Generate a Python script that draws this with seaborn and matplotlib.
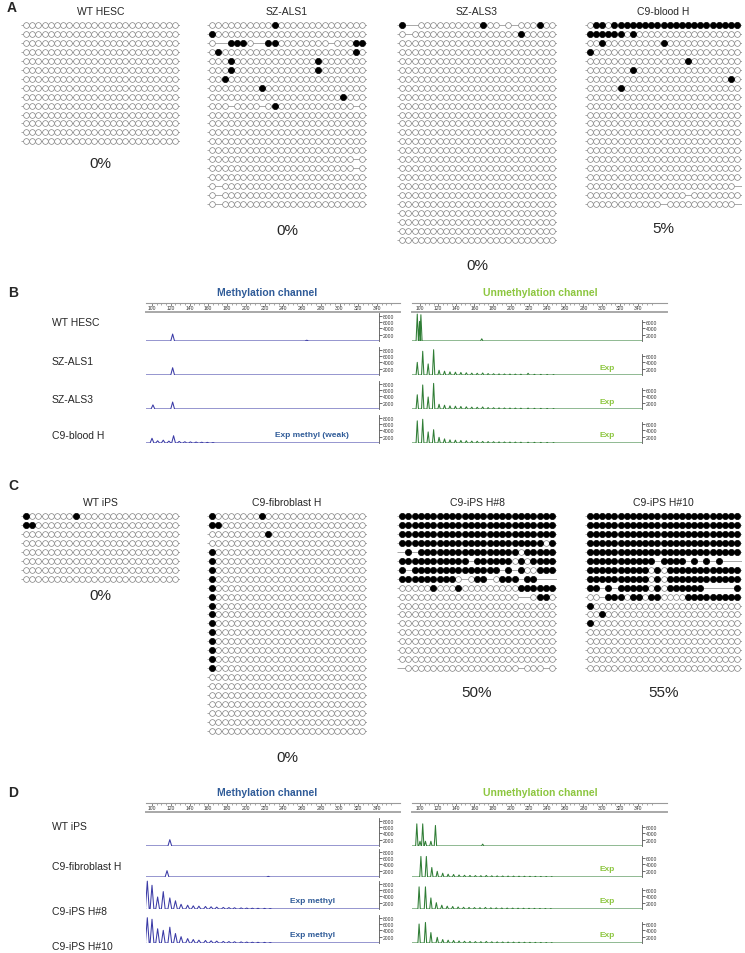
import matplotlib
matplotlib.use('Agg')
import matplotlib.pyplot as plt
import pandas as pd
import seaborn as sns

sns.set_theme(style='white')
plt.rcParams['font.family'] = ['Liberation Sans', 'DejaVu Sans']

# ---------------- bisulfite reads: o = unmethylated, x = methylated, - = no call
wt_hesc = ['ooooooooooooooooooooooooo'] * 14
sz_als1 = [
    'ooooooooooxoooooooooooooo',
    'xoooooooooooooooooooooooo',
    'o--xxxo--xxoooooooo-oooxx',
    'oxoooooooooooooooooooooxo',
    'oooxoooooooooooooxooooooo',
    'oooxoooooooooooooxooooooo',
    'ooxoooooooooooooooooooooo',
    'ooooooooxoooooooooooooooo',
    'oooooooooooooooooooooxooo',
    'ooo-oooo-oxoooooooooooo-o',
    'ooooooooooooooooooooooooo',
    'ooooooooooooooooooooooooo',
    'ooooooooooooooooooooooooo',
    'ooooooooooooooooooooooooo',
    'ooooooooooooooooooooooooo',
    'ooooooooooooooooooooooo-o',
    'ooooooooooooooooooooooo-o',
    'ooooooooooooooooooooooooo',
    'o-ooooooooooooooooooooooo',
    'o-ooooooooooooooooooooooo',
    'o-ooooooooooooooooooooooo',
]
sz_als3 = [
    'x--ooooooooooxoo-o-oooxoo',
    'o-oooooooooooooooooxooooo',
] + ['ooooooooooooooooooooooooo'] * 23
c9_blood = [
    'oxxoxxxxxxxxxxxxxxxxxxxxx',
    'xxxxxxoxooooooooooooooooo',
    'ooxoooooooooxoooooooooooo',
    'xoooooooooooooooooooooooo',
    'ooooooooooooooooxoooooooo',
    'oooooooxooooooooooooooooo',
    'oooooooooooooooooooooooxo',
    'oooooxooooooooooooooooooo',
] + ['ooooooooooooooooooooooooo'] * 10 + [
    'oooooooooooooooooooooooo-',
    'oooooooooooooooo-oooooooo',
    'oooooooooooo-ooooooooooo-',
]
wt_ips = [
    'xoooooooxoooooooooooooooo',
    'xxooooooooooooooooooooooo',
] + ['ooooooooooooooooooooooooo'] * 6
c9_fibro = [
    'xoooooooxoooooooooooooooo',
    'xxooooooooooooooooooooooo',
    'oooooooooxooooooooooooooo',
    'ooooooooooooooooooooooooo',
] + ['xoooooooooooooooooooooooo'] * 14 + ['ooooooooooooooooooooooooo'] * 7
c9_ips8 = [
    'xxxxxxxxxxxxxxxxxxxxxxxxx',
    'xxxxxxxxxxxxxxxxxxxxxxxxx',
    'xxxxxxxxxxxxxxxxxxxxxxxxx',
    'xxxxxxxxxxxxxxxxxxxxxxxox',
    '-x-xxxxxxxxxxxxxxxxoxxxxx',
    'xxxxxxxxxxx-xxxxxxoxoxxxx',
    'x-xxxxxxxxxxxxxx-x-xooxxx',
    'xxxxxxxxxo-oxx-oxxx-xx---',
    'oooooxoooxoooooooooxxxxxx',
    'ooooooooooooooooooo--oxxo',
] + ['ooooooooooooooooooooooooo'] * 7 + [
    '-oooooooooooooooooo-ooo-o',
]
c9_ips10 = ['xxxxxxxxxxxxxxxxxxxxxxxxx'] * 5 + [
    'xxxxxxxxxxx-xxxx-x-x-x---',
    'xxxxxxxxxxoxoxxxxxxxxxxxx',
    'xxxxxxxxxxoxoxxxxxxxxxxxx',
    'xx-x-xxxxxoxoxxxxxx-----x',
    'oo-xxxoxxoxxooooxxxxxxxxx',
    'xoooooooooooooooooooooooo',
    'ooxoooooooooooooooooooooo',
    'xoooooooooooooooooooooooo',
] + ['ooooooooooooooooooooooooo'] * 5

grid_names = ['WT HESC', 'SZ-ALS1', 'SZ-ALS3', 'C9-blood H',
              'WT iPS', 'C9-fibroblast H', 'C9-iPS H#8', 'C9-iPS H#10']
grid_reads = [wt_hesc, sz_als1, sz_als3, c9_blood,
              wt_ips, c9_fibro, c9_ips8, c9_ips10]
grid_pct = ['0%', '0%', '0%', '5%', '0%', '0%', '50%', '55%']

# ---------------- fragment analysis traces (size in bp, height in rfu)
ruler_ticks = [100, 120, 140, 160, 180, 200, 220, 240, 260, 280, 300, 320, 340]

b_samples = ['WT HESC', 'SZ-ALS1', 'SZ-ALS3', 'C9-blood H']
b_meth_pos = [[122, 265], [122], [101, 122],
              [100, 106, 112, 118, 123, 129, 135, 141, 147, 153, 159, 165]]
b_meth_ht = [[2200, 250], [2300], [1300, 2200],
             [1500, 700, 900, 600, 2300, 500, 400, 350, 300, 250, 200, 150]]
b_meth_note = ['', '', '', 'Exp methyl (weak)']
ladder_pos = [97, 103, 109, 115, 121, 127, 133, 139, 145, 151, 157, 163, 169,
              175, 181, 187, 193, 199, 205, 211, 219, 226, 233, 240, 247]
b_unm_pos = [[97, 99.5, 101, 168], ladder_pos, ladder_pos, ladder_pos]
b_unm_ht = [[8500, 6200, 8300, 700],
            [4000, 7500, 3500, 8000, 1500, 1200, 1000, 900, 800, 700, 600, 550, 650,
             450, 400, 350, 320, 300, 280, 260, 550, 220, 200, 180, 150],
            [4500, 7600, 3800, 8100, 1500, 1200, 1000, 900, 800, 700, 600, 550, 650,
             450, 400, 350, 320, 300, 280, 260, 300, 220, 200, 180, 150],
            [7000, 7500, 3500, 4200, 1800, 1300, 1000, 900, 800, 700, 600, 550, 500,
             450, 400, 350, 320, 300, 280, 260, 250, 220, 200, 180, 150]]
b_unm_note = ['', 'Exp', 'Exp', 'Exp']

d_samples = ['WT iPS', 'C9-fibroblast H', 'C9-iPS H#8', 'C9-iPS H#10']
meth_ladder = [95, 100, 106, 112, 119, 125, 131, 138, 144, 150, 157, 163, 169,
               176, 182, 188, 195, 201, 207, 213, 220, 226]
d_meth_pos = [[119], [116, 224], meth_ladder, meth_ladder]
d_meth_ht = [[2000], [2000, 200],
             [8800, 7500, 3800, 5500, 3500, 2600, 1500, 1200, 1000, 900, 800, 700,
              600, 500, 450, 400, 350, 300, 250, 220, 200, 150],
             [8000, 7500, 4500, 4000, 5000, 3000, 2000, 1400, 1100, 900, 800, 700,
              600, 500, 450, 400, 350, 300, 250, 220, 200, 150]]
d_meth_note = ['', '', 'Exp methyl', 'Exp methyl']
d_unm_pos = [[96.5, 100, 103, 106, 112, 117, 169],
             [101, 107, 113, 119, 125, 131, 137, 143, 149, 155, 161, 167, 173,
              179, 185, 191, 197, 203, 209, 215, 221, 227, 233, 239, 245],
             [99, 106, 112, 118, 124, 130, 136, 142, 148, 154, 160, 166, 172,
              178, 184, 190, 196, 202, 208, 214, 220, 226, 232, 238, 244],
             [99, 106, 112, 119, 125, 131, 137, 143, 149, 155, 161, 167, 173,
              179, 185, 191, 197, 203, 209, 215, 221, 227, 233, 239, 245]]
d_unm_ht = [[7000, 1500, 7000, 1500, 1500, 6500, 600],
            [6500, 6500, 3000, 1800, 1200, 900, 800, 650, 550, 500, 450, 420, 500,
             380, 350, 320, 300, 280, 260, 240, 220, 200, 180, 160, 140],
            [7000, 7000, 3500, 2000, 1200, 900, 800, 650, 550, 500, 450, 420, 500,
             380, 350, 320, 300, 280, 260, 240, 220, 200, 180, 160, 140],
            [6000, 6500, 3300, 1800, 1100, 900, 800, 650, 550, 500, 450, 420, 500,
             380, 350, 320, 300, 280, 260, 240, 220, 200, 180, 160, 140]]
d_unm_note = ['', 'Exp', 'Exp', 'Exp']

# ---------------- layout (pixels)
W, H = 745, 954
ROW = 8.95
BLUE = '#3a3aa6'
TITLE_BLUE = '#2f5b98'
GREEN = '#2f7d35'
LIGHT_GREEN = '#8cc63f'

fig = plt.figure(figsize=(W / 100, H / 100), dpi=100)


def box(x0, y0, w, h):
    return [x0 / W, 1 - (y0 + h) / H, w / W, h / H]


def put(x, y, s, **kw):
    fig.text(x / W, 1 - y / H, s, **kw)


def draw_grid(reads, x0, x1, y0, name, pct, pct_gap):
    n = len(reads[0])
    nr = len(reads)
    ax = fig.add_axes(box(x0, y0 - ROW / 2, x1 - x0, nr * ROW))
    ax.set_xlim(-0.8, n - 0.2)
    ax.set_ylim(nr - 0.5, -0.5)
    ax.axis('off')
    ax.hlines(range(nr), -0.8, n - 0.2, color='#9a9a9a', lw=0.6, zorder=1)
    df = pd.DataFrame([(j, i, c) for i, r in enumerate(reads) for j, c in enumerate(r)],
                      columns=['cpg', 'read', 'state'])
    s = 17
    un = df[df.state == 'o']
    me = df[df.state == 'x']
    if len(un):
        sns.scatterplot(data=un, x='cpg', y='read', color='white', edgecolor='#828282',
                        s=s, linewidth=0.5, ax=ax, zorder=2, legend=False)
    if len(me):
        sns.scatterplot(data=me, x='cpg', y='read', color='black', edgecolor='black',
                        s=s + 3, linewidth=0.5, ax=ax, zorder=3, legend=False)
    cx = (x0 + x1) / 2
    put(cx, y0 - 14, name, ha='center', va='center', fontsize=7.5)
    put(cx, y0 + (nr - 1) * ROW + pct_gap, pct, ha='center', va='center', fontsize=11)


def trace_xy(pos, hts, lo, hi, w):
    xs, ys = [lo], [0]
    for p, h in sorted(zip(pos, hts)):
        xs += [p - w, p, p + w]
        ys += [0, h, 0]
    xs.append(hi)
    ys.append(0)
    return pd.DataFrame({'size': xs, 'rfu': ys})


def draw_trace(x0, x1, base, xlim, pos, hts, color, ticks, w, note, note_color, note_x):
    h = 31
    ax = fig.add_axes(box(x0, base - h, x1 - x0, h))
    ax.patch.set_alpha(0)
    d = trace_xy(pos, hts, xlim[0], xlim[1], w)
    sns.lineplot(data=d, x='size', y='rfu', sort=False, estimator=None,
                 color=color, lw=0.75, ax=ax)
    ax.set_xlim(xlim)
    ax.set_ylim(0, 9800)
    for sp in ['top', 'left', 'bottom']:
        ax.spines[sp].set_visible(False)
    ax.spines['right'].set_color('#555')
    ax.spines['right'].set_linewidth(0.6)
    ax.spines['right'].set_bounds(0, ticks[-1] + 700)
    ax.yaxis.tick_right()
    ax.set_yticks(ticks)
    ax.set_yticklabels([str(t) for t in ticks])
    ax.tick_params(axis='y', direction='out', length=2, width=0.5, pad=0.5,
                   labelsize=3.6, colors='#333', right=True)
    ax.set_xticks([])
    ax.set_xlabel('')
    ax.set_ylabel('')
    if note:
        put(note_x, base - 8, note, ha='center', va='center', fontsize=6,
            fontweight='bold', color=note_color)


def draw_ruler(x0, x1, y, xlim):
    ax = fig.add_axes(box(x0, y, x1 - x0, 9))
    ax.patch.set_alpha(0)
    ax.set_xlim(xlim)
    ax.set_ylim(0, 1)
    ax.set_yticks([])
    for sp in ['left', 'right']:
        ax.spines[sp].set_visible(False)
    ax.spines['top'].set_color('#9a9a9a')
    ax.spines['top'].set_linewidth(0.8)
    ax.spines['bottom'].set_color('#a8a8a8')
    ax.spines['bottom'].set_linewidth(1.4)
    ax.set_xticks(ruler_ticks)
    ax.set_xticks([t + 5 * k for t in ruler_ticks for k in (1, 2, 3)], minor=True)
    ax.xaxis.set_ticks_position('top')
    ax.tick_params(axis='x', which='major', direction='in', length=2.2, width=0.5,
                   color='#555', top=True, bottom=False, labeltop=False,
                   labelbottom=True, labelsize=3.6, pad=-5.2, labelcolor='#333')
    ax.tick_params(axis='x', which='minor', direction='in', length=1.2, width=0.4,
                   color='#666', top=True, bottom=False)


def draw_fragment_panel(y_title, y_ruler, bases, label_offsets, names,
                        m_pos, m_ht, m_note, u_pos, u_ht, u_note):
    put(267, y_title, 'Methylation channel', ha='center', va='center',
        fontsize=7.5, fontweight='bold', color=TITLE_BLUE)
    put(540, y_title, 'Unmethylation channel', ha='center', va='center',
        fontsize=7.5, fontweight='bold', color=LIGHT_GREEN)
    m_xlim = (93.6, 342.0)
    u_xlim = (91.2, 344.4)
    draw_ruler(146, 400, y_ruler, (m_xlim[0], m_xlim[0] + (400 - 146) / 0.9375))
    draw_ruler(412, 667, y_ruler, (u_xlim[0], u_xlim[0] + (667 - 412) / 0.908))
    for i, base in enumerate(bases):
        put(52, base + label_offsets[i], names[i], ha='left', va='center', fontsize=7.5)
        draw_trace(146, 379, base, m_xlim, m_pos[i], m_ht[i], BLUE,
                   [2000, 4000, 6000, 8000], 2.0, m_note[i], TITLE_BLUE, 312)
        draw_trace(412, 642, base, u_xlim, u_pos[i], u_ht[i], GREEN,
                   [2000, 4000, 6000], 1.3, u_note[i], LIGHT_GREEN, 607)


# panel letters
for letter, (lx, ly) in zip('ABCD', [(7, 8), (8, 293), (8, 486), (8, 793)]):
    put(lx, ly, letter, ha='left', va='center', fontsize=10, fontweight='bold')

# panels A and C
grid_x = [(21, 180), (207, 367), (397, 557), (585, 742)] * 2
grid_y = [26] * 4 + [517] * 4
pct_gap = [22, 26, 25, 24, 16, 26, 24, 24]
for k in range(8):
    draw_grid(grid_reads[k], grid_x[k][0], grid_x[k][1], grid_y[k],
              grid_names[k], grid_pct[k], pct_gap[k])

# panels B and D
draw_fragment_panel(293, 304, [342, 376, 410, 444], [-19, -14, -10, -8], b_samples,
                    b_meth_pos, b_meth_ht, b_meth_note, b_unm_pos, b_unm_ht, b_unm_note)
draw_fragment_panel(793, 804, [847, 878, 910, 944], [-20, -11, 2, 3], d_samples,
                    d_meth_pos, d_meth_ht, d_meth_note, d_unm_pos, d_unm_ht, d_unm_note)

fig.savefig('out.png', dpi=100, facecolor='white')
